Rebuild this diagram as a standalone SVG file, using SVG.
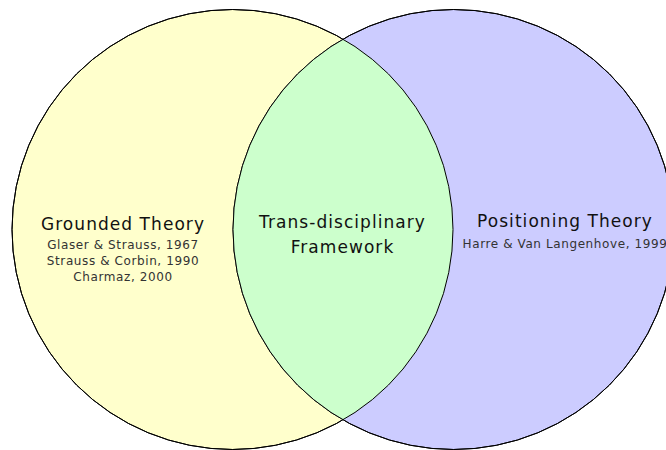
<svg xmlns="http://www.w3.org/2000/svg" width="666" height="450" viewBox="0 0 666 450">
<style>
.c{stroke:#000;stroke-width:1}
.t{font-family:"DejaVu Sans",Verdana,sans-serif;text-anchor:middle;fill:#111}
.h{font-size:17px;letter-spacing:1.05px}
.s{font-size:12px;letter-spacing:0.6px;fill:#333}
</style>
<rect width="666" height="450" fill="#fff"/>
<defs>
<clipPath id="clipL"><ellipse cx="232.5" cy="229.5" rx="220.5" ry="220"/></clipPath>
</defs>
<g id="grounded-theory">
<ellipse class="c" cx="232.5" cy="229.5" rx="220.5" ry="220" fill="#FFFFCC"/>
</g>
<g id="positioning-theory">
<ellipse class="c" cx="453.5" cy="229.5" rx="220.5" ry="220" fill="#CCCCFF"/>
</g>
<g id="framework">
<ellipse cx="453.5" cy="229.5" rx="220.5" ry="220" fill="#CCFFCC" clip-path="url(#clipL)"/>
<ellipse cx="232.5" cy="229.5" rx="220.5" ry="220" fill="none" stroke="#000" stroke-width="1"/>
<ellipse cx="453.5" cy="229.5" rx="220.5" ry="220" fill="none" stroke="#000" stroke-width="1"/>
</g>
<g id="labels">
<text class="t h" x="123" y="230">Grounded Theory</text>
<text class="t s" x="123" y="249">Glaser &amp; Strauss, 1967</text>
<text class="t s" x="123" y="265">Strauss &amp; Corbin, 1990</text>
<text class="t s" x="123" y="281">Charmaz, 2000</text>
<text class="t h" x="342.5" y="228">Trans-disciplinary</text>
<text class="t h" x="342.5" y="253">Framework</text>
<text class="t h" x="565" y="227">Positioning Theory</text>
<text class="t s" x="565" y="248">Harre &amp; Van Langenhove, 1999</text>
</g>
</svg>
